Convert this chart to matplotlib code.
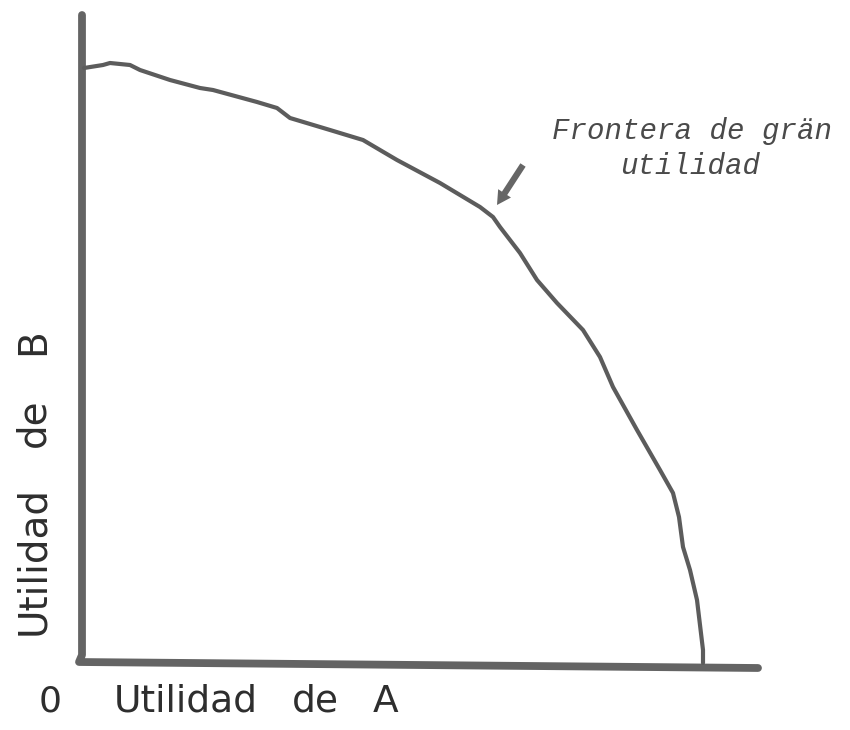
import matplotlib
matplotlib.use("Agg")
import matplotlib.pyplot as plt

# Frontier of great utility (utility of A, utility of B), hand-drawn trace
frontier_a = [0.2, 2.1, 2.8, 4.8, 5.8, 8.8, 11.8, 13.1, 17.5, 19.5, 20.8, 24.8, 28.1,
              31.5, 35.8, 39.8, 41.1, 41.8, 43.8, 45.5, 47.5, 50.1, 51.8, 53.1, 55.5,
              57.8, 59.1, 59.7, 60.1, 60.8, 61.5, 62.1, 62.1]
frontier_b = [59.5, 59.8, 60.0, 59.8, 59.3, 58.3, 57.5, 57.3, 56.1, 55.5, 54.5, 53.3, 52.3,
              50.3, 48.0, 45.6, 44.6, 43.6, 41.0, 38.3, 36.0, 33.3, 30.6, 27.6, 23.3,
              19.3, 17.0, 14.6, 11.6, 9.3, 6.3, 1.3, 0.0]

xlabel_words = ["Utilidad", "de", "A"]
ylabel_words = ["Utilidad", "de", "B"]
origin_label = "0"
annot_lines = ["Frontera de grän", "utilidad"]

fig = plt.figure(figsize=(8.5, 7.3), dpi=100)
ax = fig.add_axes([0, 0, 1, 1])
ax.set_xlim(-8.2, 76.8)
ax.set_ylim(-6.7, 66.3)
ax.axis("off")

axis_col = "#646464"
curve_col = "#5c5c5c"
label_col = "#2e2e2e"

# axes drawn as a single thick stroke
ax.plot([0, 0, -0.3, 67.6], [64.8, 0.8, 0.1, -0.5], color=axis_col, lw=5.6,
        solid_capstyle="round", solid_joinstyle="round")

# frontier
ax.plot(frontier_a, frontier_b, color=curve_col, lw=3.0,
        solid_capstyle="round", solid_joinstyle="round")

# arrow
ax.annotate("", xy=(41.5, 45.8), xytext=(44.1, 49.8),
            arrowprops=dict(arrowstyle="simple,head_length=1.0,head_width=1.1,tail_width=0.45",
                            color="#666666", lw=0, shrinkA=0, shrinkB=0))

ax.text(61.0, 53.2, annot_lines[0], ha="center", va="center", fontsize=21,
        family=["Liberation Mono", "DejaVu Sans Mono"], style="italic", color="#4a4a4a")
ax.text(60.8, 49.7, annot_lines[1], ha="center", va="center", fontsize=21,
        family=["Liberation Mono", "DejaVu Sans Mono"], style="italic", color="#4a4a4a")

# x label words
for word, xpos in zip(xlabel_words, [3.2, 21.0, 29.1]):
    ax.text(xpos, -4.9, word, ha="left", va="baseline", fontsize=27,
            family="DejaVu Sans", color=label_col)
ax.text(-4.3, -4.9, origin_label, ha="left", va="baseline", fontsize=26,
        family="DejaVu Sans", color=label_col)

# y label words (rotated)
for word, ypos in zip(ylabel_words, [2.8, 21.6, 30.8]):
    ax.text(-4.9, ypos, word, ha="center", va="bottom", rotation=90, fontsize=28,
            family="DejaVu Sans", color=label_col)

fig.savefig("out.png", dpi=100, facecolor="white")
